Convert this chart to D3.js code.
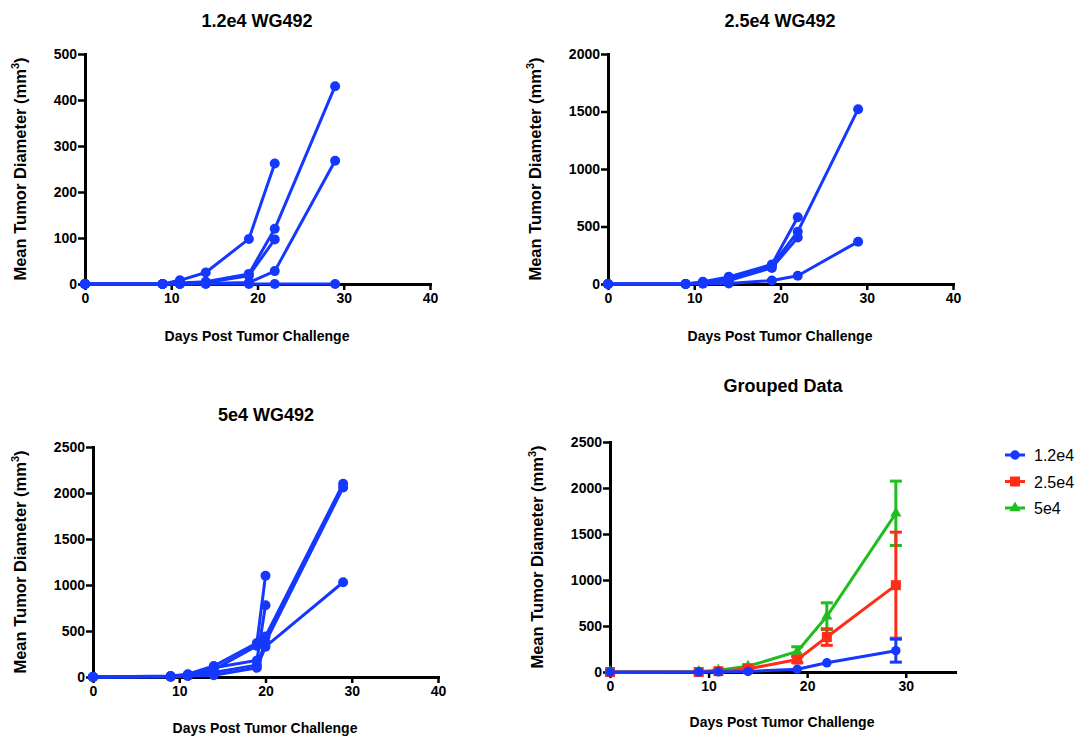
<!DOCTYPE html>
<html>
<head>
<meta charset="utf-8">
<script src="https://cdn.jsdelivr.net/npm/d3@7"></script>
<style>
  html, body { margin: 0; padding: 0; background: #fff; }
  svg { display: block; font-family: "Liberation Sans", Arial, Helvetica, sans-serif; }
</style>
</head>
<body>
<svg id="chart" width="1077" height="736"></svg>
<script>
// ---------------- DATA ----------------
const days12 = [0, 9, 11, 14, 19, 22, 29];
const mice12 = [
  [0, 0, 8, 25, 98, 262, null],
  [0, 0, 2, 5, 22, 120, 430],
  [0, 0, 1, 3, 18, 97, null],
  [0, 0, 0, 1, 3, 28, 268],
  [0, 0, 0, 0, 0, 0, 0]
];
const days25 = [0, 9, 11, 14, 19, 22, 29];
const mice25 = [
  [0, 0, 20, 62, 170, 580, null],
  [0, 0, 12, 45, 160, 455, 1520],
  [0, 0, 6, 30, 140, 405, null],
  [0, 0, 2, 5, 30, 72, 368]
];
const days50 = [0, 9, 11, 14, 19, 20, 29];
const mice50 = [
  [0, 10, 30, 120, 370, 1100, null],
  [0, 8, 25, 100, 180, 780, null],
  [0, 5, 20, 80, 340, 440, 2100],
  [0, 3, 15, 50, 130, 380, 2060],
  [0, 2, 10, 20, 100, 330, 1030]
];
const groupDays = [0, 9, 11, 14, 19, 22, 29];
const groupNames = ["1.2e4", "2.5e4", "5e4"];
const mean12 = [0, 0, 2, 6, 30, 100, 232];
const sem12  = [0, 0, 0, 0, 0, 0, 125];
const mean25 = [0, 0, 9, 34, 135, 380, 944];
const sem25  = [0, 0, 4, 12, 32, 90, 576];
const mean50 = [0, 5, 19, 62, 224, 606, 1725];
const sem50  = [0, 2, 4, 18, 50, 146, 350];

const yTicks500  = [0, 100, 200, 300, 400, 500];
const yTicks2000 = [0, 500, 1000, 1500, 2000];
const yTicks2500 = [0, 500, 1000, 1500, 2000, 2500];
const xTicks40 = [0, 10, 20, 30, 40];
const xTicks30 = [0, 10, 20, 30];

const titles = ["1.2e4 WG492", "2.5e4 WG492", "5e4 WG492", "Grouped Data"];
const xLabel = "Days Post Tumor Challenge";
const yLabel = "Mean Tumor Diameter (mm";

// ---------------- STYLE ----------------
const BLUE = "#1438ff", RED = "#ff2d17", GREEN = "#1ebe1e";
const FONT = "'Liberation Sans', Arial, Helvetica, sans-serif";
const fmt = d3.format("d");

const svg = d3.select("#chart");

function panel(cfg) {
  const g = svg.append("g");
  const x = d3.scaleLinear().domain(cfg.xDomain).range([cfg.left, cfg.right]);
  const y = d3.scaleLinear().domain(cfg.yDomain).range([cfg.bottom, cfg.top]);

  const xa = g.append("g").attr("transform", `translate(0,${cfg.bottom})`)
    .call(d3.axisBottom(x).tickValues(cfg.xTicks).tickFormat(fmt).tickSize(6).tickSizeOuter(0).tickPadding(3));
  const ya = g.append("g").attr("transform", `translate(${cfg.left},0)`)
    .call(d3.axisLeft(y).tickValues(cfg.yTicks).tickFormat(fmt).tickSize(7).tickSizeOuter(0).tickPadding(1));
  [xa, ya].forEach(a => {
    a.select(".domain").attr("stroke", "#000").attr("stroke-width", 3).attr("stroke-linecap", "square");
    a.selectAll(".tick line").attr("stroke", "#000").attr("stroke-width", 2.5);
    a.selectAll(".tick text").attr("fill", "#000").attr("font-family", FONT)
      .attr("font-size", 14).attr("font-weight", "bold");
  });

  g.append("text").attr("x", cfg.titleX).attr("y", cfg.titleY).attr("text-anchor", "middle")
    .attr("font-family", FONT).attr("font-size", 18).attr("font-weight", "bold").text(cfg.title);
  g.append("text").attr("x", cfg.xLabelX).attr("y", cfg.xLabelY).attr("text-anchor", "middle")
    .attr("font-family", FONT).attr("font-size", 14).attr("font-weight", "bold").text(xLabel);
  const yl = g.append("text")
    .attr("transform", `translate(${cfg.yLabelX},${(cfg.top + cfg.bottom) / 2}) rotate(-90)`)
    .attr("text-anchor", "middle").attr("font-family", FONT).attr("font-size", 16.5).attr("font-weight", "bold");
  yl.append("tspan").text(yLabel);
  yl.append("tspan").attr("font-size", 11).attr("dy", -7).text("3");
  yl.append("tspan").attr("dy", 7).text(")");

  return { g, x, y };
}

function drawMice(p, days, mice, color) {
  const line = d3.line().defined(d => d[1] != null).x(d => p.x(d[0])).y(d => p.y(d[1]));
  mice.forEach(vals => {
    const pts = days.map((d, i) => [d, vals[i]]);
    p.g.append("path").datum(pts).attr("d", line).attr("fill", "none")
      .attr("stroke", color).attr("stroke-width", 3).attr("stroke-linejoin", "round");
    p.g.selectAll(null).data(pts.filter(d => d[1] != null)).enter().append("circle")
      .attr("cx", d => p.x(d[0])).attr("cy", d => p.y(d[1])).attr("r", 5).attr("fill", color);
  });
}

// ---------------- PANELS ----------------
const p1 = panel({ xDomain: [0, 40], yDomain: [0, 500], left: 85, right: 430, top: 54, bottom: 284,
  xTicks: xTicks40, yTicks: yTicks500, title: titles[0], titleX: 257, titleY: 27,
  xLabelX: 257, xLabelY: 341, yLabelX: 26 });
drawMice(p1, days12, mice12, BLUE);

const p2 = panel({ xDomain: [0, 40], yDomain: [0, 2000], left: 608, right: 953, top: 54, bottom: 284,
  xTicks: xTicks40, yTicks: yTicks2000, title: titles[1], titleX: 780, titleY: 27,
  xLabelX: 780, xLabelY: 341, yLabelX: 541 });
drawMice(p2, days25, mice25, BLUE);

const p3 = panel({ xDomain: [0, 40], yDomain: [0, 2500], left: 93, right: 438, top: 447, bottom: 677,
  xTicks: xTicks40, yTicks: yTicks2500, title: titles[2], titleX: 266, titleY: 421,
  xLabelX: 265, xLabelY: 733, yLabelX: 26 });
drawMice(p3, days50, mice50, BLUE);

const p4 = panel({ xDomain: [0, 35], yDomain: [0, 2500], left: 610, right: 955, top: 442, bottom: 672,
  xTicks: xTicks30, yTicks: yTicks2500, title: titles[3], titleX: 783, titleY: 392,
  xLabelX: 782, xLabelY: 727, yLabelX: 543 });

const groups = [
  { name: groupNames[0], mean: mean12, sem: sem12, color: BLUE, shape: d3.symbolCircle, size: 70 },
  { name: groupNames[1], mean: mean25, sem: sem25, color: RED, shape: d3.symbolSquare, size: 100 },
  { name: groupNames[2], mean: mean50, sem: sem50, color: GREEN, shape: d3.symbolTriangle, size: 55 }
];
[groups[2], groups[1], groups[0]].forEach(gr => {
  const pts = groupDays.map((d, i) => ({ d, m: gr.mean[i], s: gr.sem[i] }));
  const line = d3.line().x(p => p4.x(p.d)).y(p => p4.y(p.m));
  p4.g.append("path").datum(pts).attr("d", line).attr("fill", "none")
    .attr("stroke", gr.color).attr("stroke-width", 3);
  const eb = p4.g.append("g").attr("stroke", gr.color).attr("stroke-width", 3);
  pts.filter(p => p.s > 0).forEach(p => {
    const cx = p4.x(p.d), lo = p4.y(p.m - p.s), hi = p4.y(p.m + p.s);
    eb.append("line").attr("x1", cx).attr("x2", cx).attr("y1", lo).attr("y2", hi);
    eb.append("line").attr("x1", cx - 6).attr("x2", cx + 6).attr("y1", lo).attr("y2", lo);
    eb.append("line").attr("x1", cx - 6).attr("x2", cx + 6).attr("y1", hi).attr("y2", hi);
  });
  p4.g.selectAll(null).data(pts).enter().append("path")
    .attr("d", d3.symbol().type(gr.shape).size(gr.size))
    .attr("transform", p => `translate(${p4.x(p.d)},${p4.y(p.m)})`)
    .attr("fill", gr.color);
});

// legend
const leg = svg.append("g");
groups.forEach((gr, i) => {
  const cy = 455 + i * 26.5;
  leg.append("line").attr("x1", 1005).attr("x2", 1025).attr("y1", cy).attr("y2", cy)
    .attr("stroke", gr.color).attr("stroke-width", 3);
  leg.append("path").attr("d", d3.symbol().type(gr.shape).size(gr.size))
    .attr("transform", `translate(1015,${cy})`).attr("fill", gr.color);
  leg.append("text").attr("x", 1034).attr("y", cy + 6).attr("font-family", FONT)
    .attr("font-size", 16).attr("fill", "#000").text(gr.name);
});
</script>
</body>
</html>
